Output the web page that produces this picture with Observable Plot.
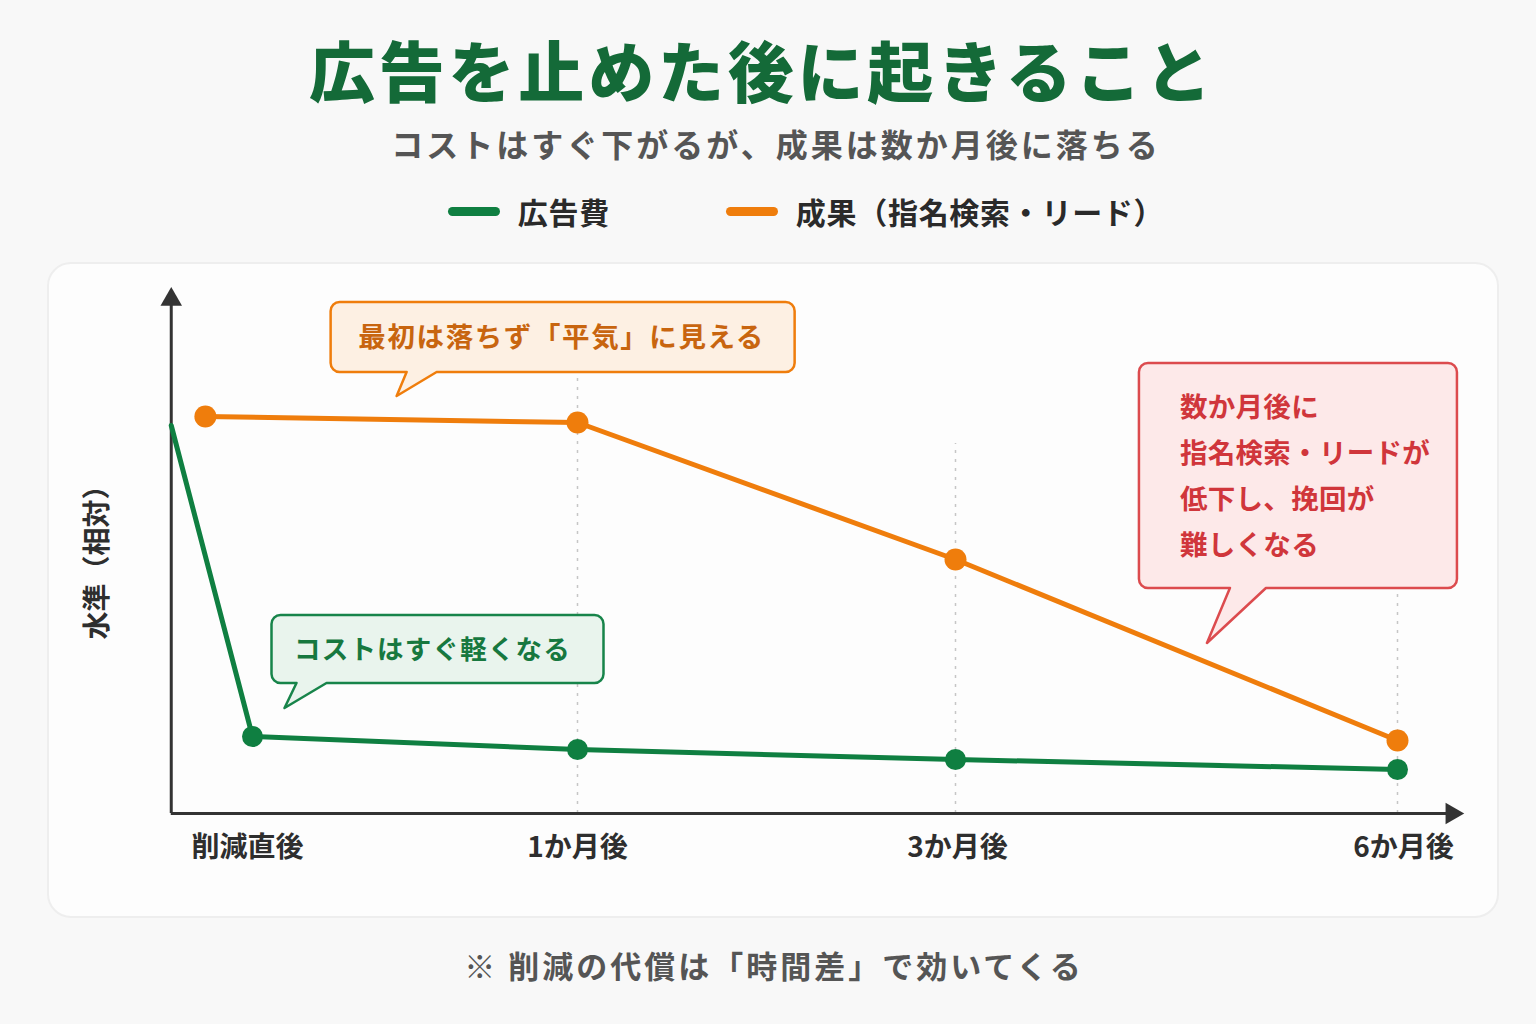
<!DOCTYPE html>
<html lang="ja">
<head>
<meta charset="utf-8">
<script src="https://cdn.jsdelivr.net/npm/d3@7"></script>
<script src="https://cdn.jsdelivr.net/npm/@observablehq/plot@0.6"></script>
<style>
  html, body { margin: 0; padding: 0; }
  body { width: 1536px; height: 1024px; background: #f8f8f8; position: relative; overflow: hidden;
         font-family: "Noto Sans CJK JP", "Noto Sans", sans-serif; }
  .abs { position: absolute; left: 0; width: 1536px; text-align: center; white-space: nowrap; }
  #title { top: 24px; font-size: 66px; font-weight: 900; color: #146a38; letter-spacing: 3.8px; line-height: 88px; margin-left: -6px; }
  #subtitle { top: 120px; font-size: 32px; font-weight: 700; color: #555; letter-spacing: 3px; line-height: 46px; margin-left: 8px; }
  #legend { top: 189px; height: 44px; display: flex; justify-content: center; align-items: center; gap: 0; margin-left: 38px; }
  .lg { display: flex; align-items: center; font-size: 30px; font-weight: 700; color: #2a2a2a; letter-spacing: 0.7px; }
  .sw { width: 52px; height: 9px; border-radius: 5px; margin-right: 18px; }
  #card { position: absolute; left: 47px; top: 262px; width: 1452px; height: 656px; background: #fdfdfd;
          border: 2px solid #eeeeee; border-radius: 24px; box-sizing: border-box; }
  #chart { position: absolute; left: 0; top: 262px; }
  #caption { top: 942px; font-size: 31px; font-weight: 700; color: #555; letter-spacing: 3px; line-height: 46px; margin-left: 6px; }
</style>
</head>
<body>
<div id="title" class="abs"></div>
<div id="subtitle" class="abs"></div>
<div id="legend" class="abs"></div>
<div id="card"></div>
<div id="chart"></div>
<div id="caption" class="abs"></div>
<script>
// ---- text ----
const titleText = "広告を止めた後に起きること";
const subtitleText = "コストはすぐ下がるが、成果は数か月後に落ちる";
const captionText = "※ 削減の代償は「時間差」で効いてくる";
const yLabel = "水準（相対）";

// ---- series (x = months after cut; negative = just before the cut) ----
const seriesNames = ["広告費", "成果（指名検索・リード）"];
const seriesColors = ["#0f7f41", "#ef7d0c"];
const costX = [-0.25, 0, 1, 3, 6];
const costY = [97, 19.25, 16, 13.5, 11];
const costDot = [false, true, true, true, true];
const resultX = [-0.145, 1, 3, 6];
const resultY = [99.25, 97.75, 63.5, 18.25];

// ---- x ticks ----
const tickMonths = [0, 1, 3, 6];
const tickLabels = ["削減直後", "1か月後", "3か月後", "6か月後"];
const gridMonths = [1, 3, 6];
const gridTop = [110, 92.5, 56];

// ---- callouts ----
const noteTexts = [
  ["最初は落ちず「平気」に見える"],
  ["コストはすぐ軽くなる"],
  ["数か月後に", "指名検索・リードが", "低下し、挽回が", "難しくなる"]
];
const noteTipX = [0.445, 0.1, 4.71];
const noteTipY = [104.25, 26.25, 42.5];

// ---- header ----
document.getElementById("title").textContent = titleText;
document.getElementById("subtitle").textContent = subtitleText;
document.getElementById("caption").textContent = captionText;
const legend = document.getElementById("legend");
seriesNames.forEach((n, i) => {
  const it = document.createElement("div");
  it.className = "lg";
  if (i > 0) it.style.marginLeft = "116px";
  it.innerHTML = `<span class="sw" style="background:${seriesColors[i]}"></span><span>${n}</span>`;
  legend.appendChild(it);
});

const cost = costX.map((x, i) => ({x, y: costY[i], dot: costDot[i]}));
const result = resultX.map((x, i) => ({x, y: resultY[i]}));

const axisX0 = costX[0];
const xEnd = 6.45;
const yTop = 131.5;
const tickDx = [-5, 0, 2, 6];

// callout layout (pixel offsets from the tail tip)
const noteStyle = [
  {l: -66, r: 398, t: -94, b: -24, b1: 10, b2: 40, stroke: "#ef7d0c", fill: "#fdf0e3", color: "#c8650f", align: "middle", lh: 0, fs: 27.5, ls: 1.6, tdx: -1},
  {l: -13, r: 319, t: -93, b: -25, b1: 12, b2: 42, stroke: "#17844a", fill: "#e9f4ed", color: "#17783f", align: "middle", lh: 0, fs: 26.5, ls: 1.2, tdx: -5},
  {l: -68, r: 250, t: -280, b: -55, b1: 23, b2: 59, stroke: "#dc4b4e", fill: "#fde9e9", color: "#d0363b", align: "start", lh: 46, fs: 27.5, ls: 0.3, tdx: 0}
];

function callouts(index, scales) {
  const g = d3.create("svg:g");
  noteTexts.forEach((lines, i) => {
    const s = noteStyle[i];
    const tx = scales.x(noteTipX[i]), ty = scales.y(noteTipY[i]);
    const L = tx + s.l, R = tx + s.r, T = ty + s.t, B = ty + s.b, rad = 9;
    const p = `M${L + rad},${T} H${R - rad} A${rad},${rad} 0 0 1 ${R},${T + rad} V${B - rad} A${rad},${rad} 0 0 1 ${R - rad},${B} H${tx + s.b2} L${tx},${ty} L${tx + s.b1},${B} H${L + rad} A${rad},${rad} 0 0 1 ${L},${B - rad} V${T + rad} A${rad},${rad} 0 0 1 ${L + rad},${T} Z`;
    g.append("path").attr("d", p).attr("fill", s.fill).attr("stroke", s.stroke).attr("stroke-width", 2.5).attr("stroke-linejoin", "round");
    const n = lines.length;
    lines.forEach((t, j) => {
      const cy = n === 1 ? (T + B) / 2 : T + 44 + j * s.lh;
      g.append("text")
        .attr("x", (s.align === "middle" ? (L + R) / 2 : L + 41) + s.tdx)
        .attr("y", cy)
        .attr("dy", "0.36em")
        .attr("text-anchor", s.align)
        .attr("fill", s.color)
        .attr("font-size", s.fs)
        .attr("font-weight", 700)
        .attr("letter-spacing", s.ls)
        .text(t);
    });
  });
  return g.node();
}

const chart = Plot.plot({
  width: 1536,
  height: 656,
  marginTop: 25,
  marginBottom: 105,
  marginLeft: 171,
  marginRight: 73,
  style: {fontFamily: '"Noto Sans CJK JP", "Noto Sans", sans-serif', background: "transparent", overflow: "visible"},
  x: {type: "linear", domain: tickMonths, range: [252, 577, 955, 1397], axis: null},
  y: {domain: [0, yTop], axis: null},
  marks: [
    Plot.ruleX(gridMonths, {x: d => d, y1: 0, y2: (d, i) => gridTop[i], stroke: "#c6c6c6", strokeWidth: 1.5, strokeDasharray: "3,6"}),
    Plot.ruleX([axisX0], {x: d => d, y1: 0, y2: yTop - 3, stroke: "#333", strokeWidth: 3}),
    Plot.ruleY([0], {y: d => d, x1: axisX0, x2: xEnd - 0.1, stroke: "#333", strokeWidth: 3}),
    Plot.dot([yTop], {x: axisX0, y: d => d, symbol: "triangle", r: 8, fill: "#333", stroke: null, dy: 12}),
    Plot.dot([xEnd], {x: d => d, y: 0, symbol: "triangle", r: 8, fill: "#333", stroke: null, rotate: 90, dx: -12}),
    Plot.line(cost, {x: "x", y: "y", stroke: seriesColors[0], strokeWidth: 5, strokeLinejoin: "round", strokeLinecap: "round"}),
    Plot.line(result, {x: "x", y: "y", stroke: seriesColors[1], strokeWidth: 5, strokeLinejoin: "round", strokeLinecap: "round"}),
    Plot.dot(cost.filter(d => d.dot), {x: "x", y: "y", r: 10.5, fill: seriesColors[0], stroke: null}),
    Plot.dot(result, {x: "x", y: "y", r: 11, fill: seriesColors[1], stroke: null}),
    ...tickMonths.map((m, i) => Plot.text([m], {x: d => d, y: 0, dy: 35, dx: tickDx[i], text: () => tickLabels[i], fontSize: 28, fontWeight: 700, fill: "#2e2e2e"})),
    Plot.text([yLabel], {x: axisX0, y: 64.5, dx: -73, text: d => d, rotate: -90, fontSize: 28, fontWeight: 700, fill: "#2e2e2e"}),
    callouts
  ]
});
document.getElementById("chart").appendChild(chart);
</script>
</body>
</html>
